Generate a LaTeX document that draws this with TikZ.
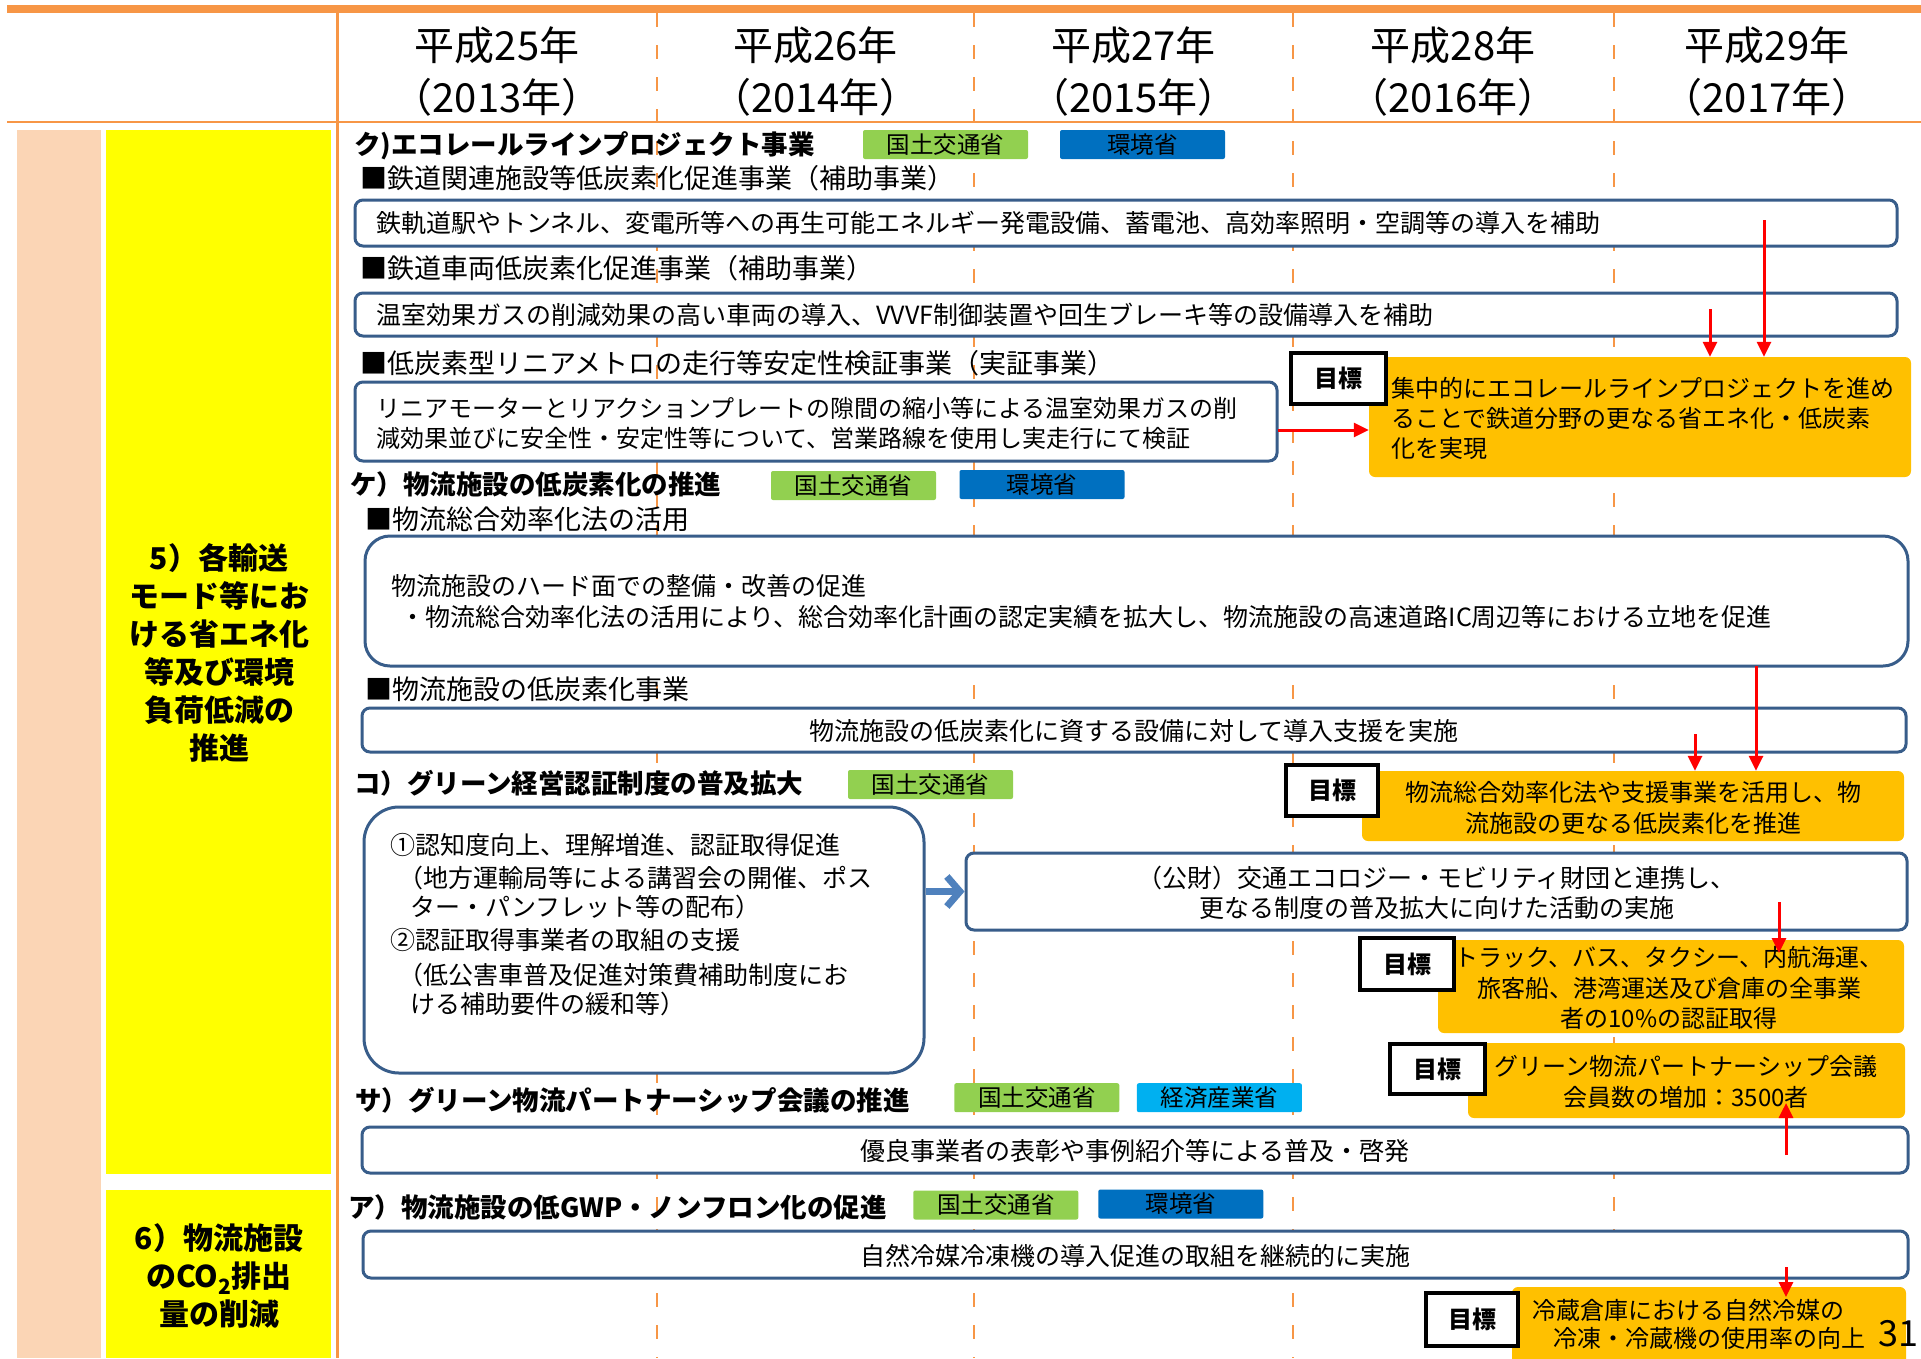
\documentclass[tikz,border=0pt]{standalone}
\usepackage{fontspec}
\setmainfont{Noto Sans CJK JP}
\usetikzlibrary{arrows.meta}
\definecolor{lineor}{HTML}{F79646}
\definecolor{peach}{HTML}{FBD5B5}
\definecolor{sideyel}{HTML}{FFFF00}
\definecolor{mlitgreen}{HTML}{92D050}
\definecolor{envblue}{HTML}{0070C0}
\definecolor{metiblue}{HTML}{00B0F0}
\definecolor{goalor}{HTML}{FFC000}
\definecolor{boxblue}{HTML}{385D8A}
\definecolor{arrblue}{HTML}{4F81BD}
\begin{document}
\begin{tikzpicture}[x=1pt,y=-1pt,
  txt/.style={inner sep=0pt, anchor=west, font=\fontsize{25}{30}\selectfont},
  ctxt/.style={inner sep=0pt, align=center, font=\fontsize{25}{30}\selectfont},
  head/.style={inner sep=0pt, anchor=west, font=\fontsize{27}{30}\selectfont},
  ttl/.style={inner sep=0pt, anchor=west, font=\bfseries\fontsize{26.5}{30}\selectfont},
  badge/.style={inner sep=0pt, minimum width=165pt, minimum height=29pt, rounded corners=2pt, font=\fontsize{23.5}{25}\selectfont},
  gbadge/.style={badge, fill=mlitgreen},
  bbadge/.style={badge, fill=envblue},
  cbadge/.style={badge, fill=metiblue},
  bbox/.style={draw=boxblue, line width=3pt, fill=white, rounded corners=8pt, inner sep=0pt},
  goaltag/.style={draw=black, line width=4.5pt, fill=white, inner sep=0pt, font=\bfseries\fontsize{24}{26}\selectfont},
  goalbg/.style={fill=goalor, rounded corners=6pt, inner sep=0pt},
  goaltxt/.style={inner sep=0pt, align=center, font=\fontsize{24}{30.5}\selectfont},
  redarr/.style={draw=red, line width=3pt, -{Triangle[length=15pt,width=14pt]}},
  bluearr/.style={draw=arrblue, line width=7pt, -{Straight Barb[length=13pt,width=30pt]}},
  yearlbl/.style={inner sep=0pt, font=\fontsize{40}{50}\selectfont},
  sidelbl/.style={inner sep=0pt, align=center, font=\bfseries\fontsize{30}{38}\selectfont},
  gridln/.style={draw=lineor, line width=2.5pt},
]
\useasboundingbox (0,0) rectangle (1921,1358);
\fill[white] (0,0) rectangle (1921,1358);

% ---------- grid ----------
\foreach \gx in {657,974,1293,1614}
  \draw[gridln, dash pattern=on 14pt off 18pt] (\gx,13) -- (\gx,1358);
\fill[lineor] (7,5) rectangle (1921,12.5);
\draw[gridln, line width=3pt] (337,12) -- (337,1358);
\draw[gridln] (7,122) -- (1921,122);

% ---------- years ----------
\node[yearlbl] (y1a) at (497,45) {平成25年};
\node[yearlbl] (y1b) at (497,97) {（2013年）};
\node[yearlbl] (y2a) at (815.5,45) {平成26年};
\node[yearlbl] (y2b) at (815.5,97) {（2014年）};
\node[yearlbl] (y3a) at (1133.5,45) {平成27年};
\node[yearlbl] (y3b) at (1133.5,97) {（2015年）};
\node[yearlbl] (y4a) at (1453,45) {平成28年};
\node[yearlbl] (y4b) at (1453,97) {（2016年）};
\node[yearlbl] (y5a) at (1767,45) {平成29年};
\node[yearlbl] (y5b) at (1767,97) {（2017年）};

% ---------- side labels ----------
\fill[peach] (17,130) rectangle (101,1358);
\node[fill=sideyel, inner sep=0pt, minimum width=225pt, minimum height=1044pt] (side1) at (218.5,652) {};
\node[sidelbl] (side1t) at (219,653) {5）各輸送\\モード等にお\\ける省エネ化\\等及び環境\\負荷低減の\\推進};
\node[fill=sideyel, inner sep=0pt, minimum width=225pt, minimum height=168pt] (side2) at (218.5,1274) {};
\node[sidelbl] (side2t) at (219,1276) {6）物流施設\\のCO\textsubscript{2}排出\\量の削減};

% ---------- ク ----------
\node[ttl] (tK) at (354,146) {ク)エコレールラインプロジェクト事業};
\node[gbadge] (tKg) at (945.5,144.5) {国土交通省};
\node[bbadge] (tKb) at (1142.5,144.5) {環境省};
\node[head] (hK1) at (360,178) {■鉄道関連施設等低炭素化促進事業（補助事業）};
\node[bbox, minimum width=1542pt, minimum height=46pt] (bK1) at (1126,223) {};
\node[txt] (bK1t) at (376,223) {鉄軌道駅やトンネル、変電所等への再生可能エネルギー発電設備、蓄電池、高効率照明・空調等の導入を補助};
\node[head] (hK2) at (360,268) {■鉄道車両低炭素化促進事業（補助事業）};
\node[bbox, minimum width=1542pt, minimum height=43pt] (bK2) at (1126,314.5) {};
\node[txt] (bK2t) at (376,315) {温室効果ガスの削減効果の高い車両の導入、VVVF制御装置や回生ブレーキ等の設備導入を補助};
\node[head] (hK3) at (360,363) {■低炭素型リニアメトロの走行等安定性検証事業（実証事業）};
\node[bbox, minimum width=922pt, minimum height=79pt] (bK3) at (816,421.5) {};
\node[txt, align=left, font=\fontsize{24}{30}\selectfont] (bK3t) at (376,423) {リニアモーターとリアクションプレートの隙間の縮小等による温室効果ガスの削\\減効果並びに安全性・安定性等について、営業路線を使用し実走行にて検証};
\node[goalbg, minimum width=542pt, minimum height=120pt] (gK) at (1640,417) {};
\node[goaltag, minimum width=95pt, minimum height=51pt] (gKt) at (1338.5,378.5) {目標};
\node[txt, align=left, font=\fontsize{24}{30}\selectfont] (gKx) at (1391,418) {集中的にエコレールラインプロジェクトを進め\\ることで鉄道分野の更なる省エネ化・低炭素\\化を実現};

% ---------- ケ ----------
\node[ttl] (tKe) at (350,484) {ケ）物流施設の低炭素化の推進};
\node[gbadge] (tKeg) at (853.5,485.5) {国土交通省};
\node[bbadge] (tKeb) at (1042,484.5) {環境省};
\node[head] (hKe1) at (365,519) {■物流総合効率化法の活用};
\node[bbox, rounded corners=25pt, minimum width=1543pt, minimum height=130pt] (bKe1) at (1136.5,601) {};
\node[txt] (bKe1a) at (391,586) {物流施設のハード面での整備・改善の促進};
\node[txt] (bKe1b) at (400,617) {・物流総合効率化法の活用により、総合効率化計画の認定実績を拡大し、物流施設の高速道路IC周辺等における立地を促進};
\node[head] (hKe2) at (365,689) {■物流施設の低炭素化事業};
\node[bbox, minimum width=1544pt, minimum height=44pt] (bKe2) at (1134,730) {};
\node[ctxt] (bKe2t) at (1134,731) {物流施設の低炭素化に資する設備に対して導入支援を実施};

% ---------- コ ----------
\node[ttl] (tKo) at (354,783) {コ）グリーン経営認証制度の普及拡大};
\node[gbadge] (tKog) at (930.5,784.5) {国土交通省};
\node[goalbg, minimum width=542pt, minimum height=70pt] (gKe) at (1633,806) {};
\node[goaltag, minimum width=92pt, minimum height=51pt] (gKet) at (1332,790.5) {目標};
\node[goaltxt] (gKex) at (1633,808) {物流総合効率化法や支援事業を活用し、物\\流施設の更なる低炭素化を推進};
\node[bbox, rounded corners=35pt, minimum width=560pt, minimum height=266pt] (bKo) at (644,940) {};
\node[txt] (bKo1) at (390,845) {①認知度向上、理解増進、認証取得促進};
\node[txt] (bKo2) at (398,878) {（地方運輸局等による講習会の開催、ポス};
\node[txt] (bKo3) at (410,907) {ター・パンフレット等の配布）};
\node[txt] (bKo4) at (390,940) {②認証取得事業者の取組の支援};
\node[txt] (bKo5) at (398,975) {（低公害車普及促進対策費補助制度にお};
\node[txt] (bKo6) at (410,1004) {ける補助要件の緩和等）};
\node[bbox, minimum width=941pt, minimum height=77pt] (bKoR) at (1436.5,891.5) {};
\node[ctxt] (bKoRt) at (1436.5,893) {（公財）交通エコロジー・モビリティ財団と連携し、\\更なる制度の普及拡大に向けた活動の実施};
\node[goalbg, minimum width=466pt, minimum height=93pt] (gKo) at (1671,986.5) {};
\node[goaltag, minimum width=94pt, minimum height=52pt] (gKot) at (1407,964) {目標};
\node[goaltxt] (gKox) at (1669,988) {トラック、バス、タクシー、内航海運、\\旅客船、港湾運送及び倉庫の全事業\\者の10\%の認証取得};

% ---------- サ ----------
\node[goalbg, minimum width=437pt, minimum height=75pt] (gSa) at (1686.5,1080.5) {};
\node[goaltag, minimum width=95pt, minimum height=50pt] (gSat) at (1437.5,1069) {目標};
\node[goaltxt] (gSax) at (1686,1082) {グリーン物流パートナーシップ会議\\会員数の増加：3500者};
\node[ttl] (tSa) at (355,1100) {サ）グリーン物流パートナーシップ会議の推進};
\node[gbadge] (tSag) at (1036.8,1097.7) {国土交通省};
\node[cbadge] (tSac) at (1219.4,1097.7) {経済産業省};
\node[bbox, minimum width=1546pt, minimum height=46pt] (bSa) at (1135,1150) {};
\node[ctxt] (bSat) at (1135,1151) {優良事業者の表彰や事例紹介等による普及・啓発};

% ---------- ア ----------
\node[ttl] (tA) at (348,1207) {ア）物流施設の低GWP・ノンフロン化の促進};
\node[gbadge] (tAg) at (995.8,1205) {国土交通省};
\node[bbadge] (tAb) at (1180.8,1204) {環境省};
\node[bbox, minimum width=1545pt, minimum height=47pt] (bA) at (1135.5,1254.5) {};
\node[ctxt] (bAt) at (1135.5,1256) {自然冷媒冷凍機の導入促進の取組を継続的に実施};
\node[goalbg, minimum width=394pt, minimum height=88pt] (gA) at (1709,1331) {};
\node[goaltag, minimum width=92pt, minimum height=53pt] (gAt) at (1472,1319.5) {目標};
\node[txt, font=\fontsize{24}{30}\selectfont] (gAx1) at (1532,1310) {冷蔵倉庫における自然冷媒の};
\node[txt, font=\fontsize{24}{30}\selectfont] (gAx2) at (1553,1338) {冷凍・冷蔵機の使用率の向上};
\node[inner sep=0pt, anchor=west, font=\fontsize{36}{40}\selectfont] (pgno) at (1878,1334) {31};

% ---------- arrows ----------
\coordinate (aK1) at (1764,220);
\coordinate (aK2) at (1710,309);
\coordinate (aK3) at (1278,430);
\draw[redarr] (aK1) -- (aK1 |- gK.north);
\draw[redarr] (aK2) -- (aK2 |- gK.north);
\draw[redarr] (aK3) -- (aK3 -| gK.west);
\coordinate (aKe1) at (1756,666);
\coordinate (aKe2) at (1695,734);
\draw[redarr] (aKe1) -- (aKe1 |- gKe.north);
\draw[redarr] (aKe2) -- (aKe2 |- gKe.north);
\draw[bluearr] (bKo.east |- bKoR.west) -- (bKoR.west);
\coordinate (aKo) at (1779,902);
\coordinate (aKoE) at (1779,953);
\draw[redarr] (aKo) -- (aKoE);
\coordinate (aSa) at (1786,1155);
\coordinate (aSaE) at (1786,1103);
\draw[redarr] (aSa) -- (aSaE);
\coordinate (aA) at (1786,1267);
\coordinate (aAE) at (1786,1297);
\draw[redarr] (aA) -- (aAE);
\end{tikzpicture}
\end{document}
